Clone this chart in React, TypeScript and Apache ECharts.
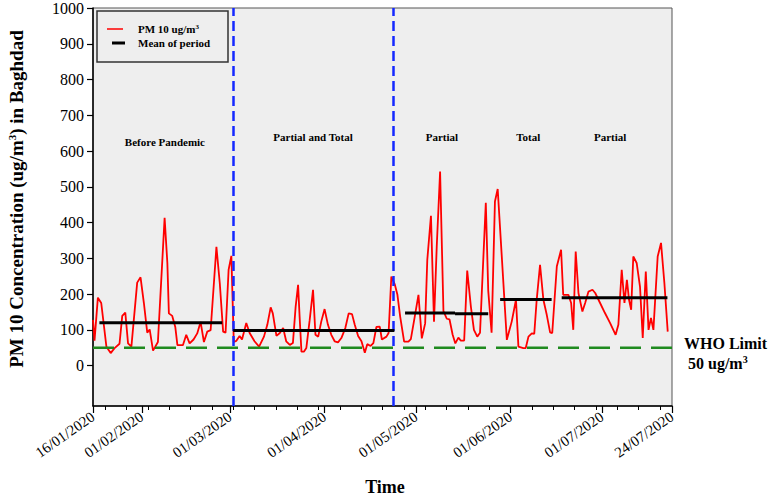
import React, { useEffect, useRef } from 'react';
import * as echarts from 'echarts';

// Days counted from 16/01/2020
const START_UTC = Date.UTC(2020, 0, 16);

const pmDays = [
  0, 0.5, 1.6, 2.7, 4.4, 5.8, 7, 8.7, 9.6, 10.6, 11.5, 12.6, 14.5, 15.6, 16.7, 17.8, 18.6, 19.7, 21.3,
  23.5, 24.4, 24.9, 26, 27, 27.7, 29.5, 30.6, 31.7, 33, 34.2, 35.3, 36.4, 37.5, 38.6, 40.5, 41.6, 42.7,
  43.5, 44.5, 45.4, 46.2, 47, 48.1, 48.9, 50.3, 51.4, 53, 54.5, 56.1, 57.2, 58.3, 59, 60.2, 61.3, 62.4,
  63.4, 64.6, 65.6, 66.5, 67.3, 67.8, 68.4, 69.2, 70, 71.1, 72.2, 73, 73.9, 74.9, 76, 77.1, 78.2, 79.3,
  80.4, 81.5, 82.8, 83.9, 85, 85.9, 87, 88.1, 89.2, 90, 91.1, 92, 93, 94.1, 94.8, 96.3, 97, 97.9, 99,
  99.9, 100.8, 102.1, 103.5, 104.3, 105.4, 106.8, 107.9, 109, 109.7, 110.9, 111.9, 112.8, 113.9, 115,
  116.1, 117, 118, 118.9, 119.9, 120.7, 121.8, 122.8, 124, 125, 126.1, 127, 128.9, 129.7, 130.8, 131.9,
  132.8, 135.8, 137.4, 138.8, 139.6, 141.2, 142, 142.9, 144, 144.8, 145.6, 146.7, 147.8, 148.9, 150,
  150.7, 152.2, 153.6, 154.3, 156, 156.9, 157.6, 158.4, 159.3, 160.6, 161.5, 162.6, 163.9, 164.8, 166.4,
  168, 169.7, 171.5, 172.4, 173.5, 174.4, 175.2, 175.9, 176.6, 177.3, 178.4, 179.5, 180.4, 181.4, 182.3,
  183.1, 183.9, 185.3, 186.4, 187.5, 188.6,
];
const pmValues = [
  128, 70, 190, 175, 53, 35, 48, 61, 139, 148, 62, 53, 232, 247, 175, 92, 101, 42, 66,
  413, 287, 146, 139, 108, 57, 57, 86, 62, 73, 90, 122, 66, 95, 99, 332, 231, 95,
  92, 268, 307, 66, 69, 83, 73, 119, 91, 68, 53, 81, 114, 163, 146, 83, 91, 105,
  68, 58, 63, 165, 226, 137, 39, 39, 49, 127, 212, 86, 81, 123, 158, 114, 86, 68,
  65, 77, 105, 146, 144, 114, 83, 68, 36, 60, 55, 63, 108, 109, 73, 81, 91, 249, 228,
  198, 137, 67, 67, 74, 128, 198, 76, 118, 296, 419, 123, 333, 543, 152,
  131, 129, 87, 62, 78, 70, 70, 266, 165, 100, 81, 92, 455, 209, 92, 459,
  494, 72, 123, 184, 53, 49, 49, 81, 90, 89, 184, 282, 184, 142, 93,
  91, 277, 324, 198, 198, 175, 100, 319, 203, 151, 175, 207, 212, 203, 175,
  147, 119, 86, 114, 268, 175, 240, 184, 156, 305, 287, 221, 77, 263, 100,
  133, 100, 305, 343, 231, 95,
];

const meanFrom = [2.1, 46, 102.4, 118.8, 133.6, 153.8];
const meanTo = [42.4, 98.9, 118.8, 129.7, 150.5, 188.5];
const meanValue = [120, 98, 147, 145, 185, 190];

const whoLimit = 50;
const phaseLineDays = [46, 98.5];

const phaseLabels = ['Before Pandemic', 'Partial and Total', 'Partial', 'Total', 'Partial'];
const phaseLabelDays = [23.6, 72.2, 114.5, 142.8, 169.7];
const phaseLabelValues = [624, 638, 638, 638, 638];

const yTickValues = [0, 100, 200, 300, 400, 500, 600, 700, 800, 900, 1000];
const majorTickDays = [0, 16, 45, 76, 106, 137, 167, 190];
const minorTickDays = [
  4, 11, 18, 25, 32, 39, 46, 53, 60, 67, 74, 81, 88, 95, 102, 109, 116, 123, 130, 137, 144, 151, 158,
  165, 172, 179, 186,
];

const SERIF = '"Liberation Serif", "Times New Roman", serif';

function dayLabel(d: number): string {
  const dt = new Date(START_UTC + Math.round(d) * 86400000);
  const dd = String(dt.getUTCDate()).padStart(2, '0');
  const mm = String(dt.getUTCMonth() + 1).padStart(2, '0');
  return `${dd}/${mm}/${dt.getUTCFullYear()}`;
}

export default function App() {
  const ref = useRef<HTMLDivElement>(null);

  useEffect(() => {
    document.body.style.margin = '0';
    if (!ref.current) return;
    const chart = echarts.init(ref.current, undefined, { renderer: 'svg' });

    const meanSeries = meanFrom.map((f, i) => ({
      type: 'line',
      name: 'Mean of period',
      data: [
        [f, meanValue[i]],
        [meanTo[i], meanValue[i]],
      ],
      symbol: 'none',
      lineStyle: { color: '#000000', width: 3 },
      z: 5,
      silent: true,
    }));

    const option: any = {
      animation: false,
      backgroundColor: '#ffffff',
      grid: {
        left: 93,
        right: 98,
        top: 8,
        bottom: 92,
        containLabel: false,
        outerBoundsMode: 'none',
        show: true,
        backgroundColor: '#eeeeee',
        borderColor: '#555555',
        borderWidth: 1,
      },
      xAxis: [
        {
          type: 'value',
          min: 0,
          max: 190,
          splitLine: { show: false },
          axisLine: { show: true, onZero: false, lineStyle: { color: '#000', width: 1.5 } },
          axisTick: { show: true, customValues: majorTickDays, length: 7, lineStyle: { color: '#000', width: 1.2 } },
          axisLabel: {
            customValues: majorTickDays,
            rotate: 35,
            formatter: (v: number) => dayLabel(v),
            fontFamily: SERIF,
            fontSize: 15,
            color: '#000',
            margin: 9,
          },
        },
        {
          type: 'value',
          min: 0,
          max: 190,
          position: 'bottom',
          splitLine: { show: false },
          axisLine: { show: false, onZero: false },
          axisTick: { show: true, customValues: minorTickDays, length: 4, lineStyle: { color: '#000', width: 1 } },
          axisLabel: { show: false },
        },
      ],
      yAxis: {
        type: 'value',
        min: -113,
        max: 1000,
        splitLine: { show: false },
        axisLine: { show: true, lineStyle: { color: '#000', width: 1.5 } },
        axisTick: { show: true, customValues: yTickValues, length: 6, lineStyle: { color: '#000', width: 1.2 } },
        axisLabel: {
          customValues: yTickValues,
          formatter: (v: number) => String(v),
          fontFamily: SERIF,
          fontSize: 16,
          color: '#000',
          margin: 9,
        },
      },
      series: [
        {
          type: 'line',
          name: 'PM 10 ug/m3',
          data: pmDays.map((d, i) => [d, pmValues[i]]),
          symbol: 'none',
          lineStyle: { color: '#ff0000', width: 1.8 },
          z: 3,
          silent: true,
        },
        {
          type: 'line',
          name: 'WHO Limit',
          data: [
            [0, whoLimit],
            [190, whoLimit],
          ],
          symbol: 'none',
          lineStyle: { color: '#1f8a1f', width: 2.5, type: [21, 10] },
          z: 4,
          silent: true,
        },
        ...meanSeries,
        {
          type: 'line',
          name: 'phases',
          data: [],
          symbol: 'none',
          z: 6,
          markLine: {
            silent: true,
            symbol: ['none', 'none'],
            label: { show: false },
            lineStyle: { color: '#1428ff', width: 2.5, type: [10, 5] },
            data: phaseLineDays.map((d) => ({ xAxis: d })),
          },
        },
        {
          type: 'custom',
          name: 'phase labels',
          silent: true,
          z: 7,
          data: phaseLabelDays.map((d, i) => [d, phaseLabelValues[i], i]),
          renderItem: (_params: any, api: any) => {
            const p = api.coord([api.value(0), api.value(1)]);
            return {
              type: 'text',
              x: p[0],
              y: p[1],
              style: {
                text: phaseLabels[api.value(2)],
                fill: '#000',
                fontFamily: SERIF,
                fontSize: 11,
                fontWeight: 'bold',
                align: 'center',
                verticalAlign: 'middle',
              },
            };
          },
        },
      ],
      graphic: [
        {
          type: 'text',
          x: 16,
          y: 199,
          rotation: Math.PI / 2,
          style: {
            text: '{b|PM 10 Concentration (ug/m}{s|3}{b|) in Baghdad}',
            align: 'center',
            verticalAlign: 'middle',
            rich: {
              b: { fontFamily: SERIF, fontSize: 19, fontWeight: 'bold', fill: '#000' },
              s: { fontFamily: SERIF, fontSize: 11, fontWeight: 'bold', fill: '#000', padding: [0, 0, 9, 0] },
            },
          },
        },
        {
          type: 'text',
          x: 385,
          y: 487,
          style: {
            text: 'Time',
            fontFamily: SERIF,
            fontSize: 18,
            fontWeight: 'bold',
            fill: '#000',
            align: 'center',
            verticalAlign: 'middle',
          },
        },
        {
          type: 'rect',
          z: 20,
          shape: { x: 97, y: 11, width: 131, height: 51 },
          style: { fill: '#eeeeee', stroke: '#333333', lineWidth: 1.5 },
        },
        {
          type: 'line',
          z: 21,
          shape: { x1: 107, y1: 29, x2: 123, y2: 29 },
          style: { stroke: '#ff0000', lineWidth: 1.5 },
        },
        {
          type: 'line',
          z: 21,
          shape: { x1: 112, y1: 43, x2: 125, y2: 43 },
          style: { stroke: '#000000', lineWidth: 3 },
        },
        {
          type: 'text',
          z: 21,
          x: 138,
          y: 29,
          style: {
            text: '{b|PM 10 ug/m}{s|3}',
            verticalAlign: 'middle',
            rich: {
              b: { fontFamily: SERIF, fontSize: 11, fontWeight: 'bold', fill: '#000' },
              s: { fontFamily: SERIF, fontSize: 7, fontWeight: 'bold', fill: '#000', padding: [0, 0, 5, 0] },
            },
          },
        },
        {
          type: 'text',
          z: 21,
          x: 138,
          y: 43,
          style: {
            text: 'Mean of period',
            fontFamily: SERIF,
            fontSize: 11,
            fontWeight: 'bold',
            fill: '#000',
            verticalAlign: 'middle',
          },
        },
        {
          type: 'text',
          x: 684,
          y: 343,
          style: {
            text: 'WHO Limit',
            fontFamily: SERIF,
            fontSize: 16,
            fontWeight: 'bold',
            fill: '#000',
            verticalAlign: 'middle',
          },
        },
        {
          type: 'text',
          x: 688,
          y: 363,
          style: {
            text: '{b|50 ug/m}{s|3}',
            verticalAlign: 'middle',
            rich: {
              b: { fontFamily: SERIF, fontSize: 16, fontWeight: 'bold', fill: '#000' },
              s: { fontFamily: SERIF, fontSize: 10, fontWeight: 'bold', fill: '#000', padding: [0, 0, 8, 0] },
            },
          },
        },
      ],
    };

    chart.setOption(option);
    return () => chart.dispose();
  }, []);

  return <div ref={ref} style={{ width: 770, height: 498 }} />;
}
